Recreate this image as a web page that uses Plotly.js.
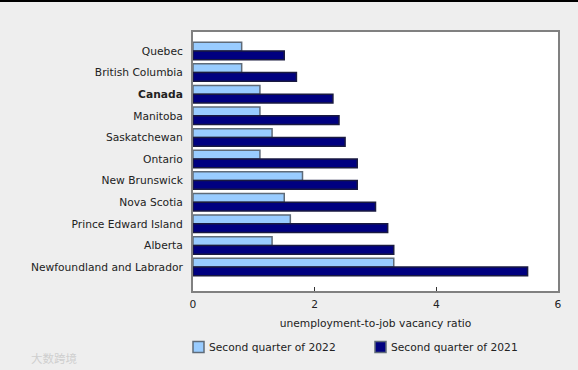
<!DOCTYPE html>
<html>
<head>
<meta charset="utf-8">
<script src="https://cdn.plot.ly/plotly-3.0.1.min.js"></script>
<style>
html,body{margin:0;padding:0;background:#eeeeee;}
#wrap{width:578px;height:370px;box-sizing:border-box;border-top:2px solid #000;}
#chart{width:578px;height:368px;}
</style>
</head>
<body>
<div id="wrap"><div id="chart"></div></div>
<script>
const regions = ["Quebec","British Columbia","<b>Canada</b>","Manitoba","Saskatchewan","Ontario","New Brunswick","Nova Scotia","Prince Edward Island","Alberta","Newfoundland and Labrador"];
const q2022 = [0.8,0.8,1.1,1.1,1.3,1.1,1.8,1.5,1.6,1.3,3.3];
const q2021 = [1.5,1.7,2.3,2.4,2.5,2.7,2.7,3.0,3.2,3.3,5.5];
const seriesNames = ["Second quarter of 2022","Second quarter of 2021"];
const seriesColors = ["#99ccff","#000080"];
const seriesLines = ["#5f6b78","#1a1a40"];
const xTicks = [0,2,4,6];

const FONT = "DejaVu Sans, Verdana, sans-serif";
const font = {family:FONT, size:10.7, color:"#222"};

// plot area in page pixels: x 193..558, y 32..291 (page has 2px top border)
const PL = 193, PR = 558, PT = 32, PB = 291;
const px = v => (v - PL) / (PR - PL);
const py = v => (PB - v) / (PB - PT);

const traces = seriesNames.map((n,i) => ({
  type:"bar", orientation:"h", y:regions, x:[q2022,q2021][i], name:n,
  marker:{color:seriesColors[i], line:{color:seriesLines[i], width:1.5}}
}));

// legend drawn as swatches + labels
const legendX = [193, 375];
const shapes = seriesNames.map((n,i) => ({
  type:"rect", xref:"paper", yref:"paper",
  x0:px(legendX[i]), x1:px(legendX[i]+11), y0:py(352.5), y1:py(341.5),
  fillcolor:seriesColors[i], line:{color:"#5f6b78", width:1.5}
}));
const annotations = seriesNames.map((n,i) => ({
  text:n, xref:"paper", yref:"paper", x:px(legendX[i]+14), y:py(347),
  xanchor:"left", yanchor:"middle", showarrow:false,
  font:{family:FONT, size:10.7, color:"#222"}
}));
annotations.push({text:"大数跨境", xref:"paper", yref:"paper", x:px(29), y:py(358),
  showarrow:false, xanchor:"left", yanchor:"middle",
  font:{family:"Noto Sans CJK SC", size:11.5, color:"#cfcfcf"}});

const layout = {
  width:578, height:368,
  paper_bgcolor:"#eeeeee", plot_bgcolor:"#ffffff",
  font:font,
  margin:{l:PL, r:578-PR, t:PT-2, b:368-(PB-2), autoexpand:false},
  barmode:"group", bargap:0.19, bargroupgap:0,
  showlegend:false,
  xaxis:{range:[0,6], tickvals:xTicks, ticktext:xTicks.map(String), ticks:"inside", ticklen:4,
         tickcolor:"#333", showgrid:false, zeroline:false, showline:true, mirror:true,
         linecolor:"#808080", linewidth:2, automargin:false, ticklabelstandoff:2,
         title:{text:"unemployment-to-job vacancy ratio", standoff:10, font:{size:10.7,color:"#222"}}},
  yaxis:{range:[11.11,-0.88], showgrid:false, zeroline:false, showline:true, mirror:true,
         linecolor:"#808080", linewidth:2, ticks:"", ticklabelstandoff:6, automargin:false},
  shapes:shapes,
  annotations:annotations
};
Plotly.newPlot("chart", traces, layout, {displayModeBar:false, staticPlot:true});
</script>
</body>
</html>
